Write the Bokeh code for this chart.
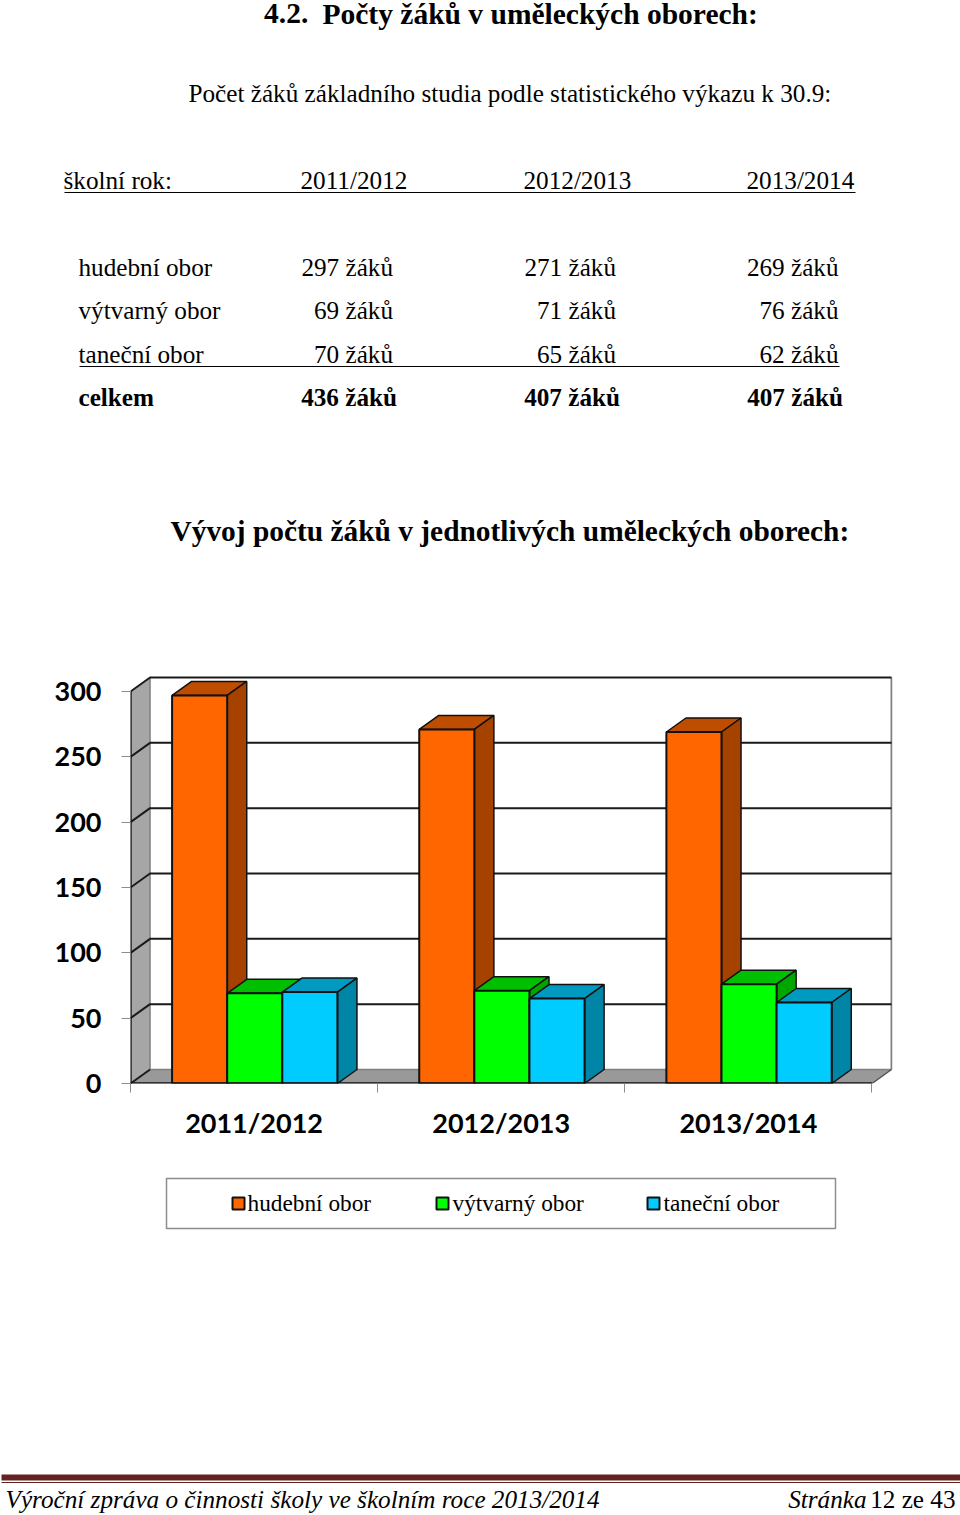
from bokeh.plotting import figure
from bokeh.layouts import column
from bokeh.models import Range1d, FixedTicker
from bokeh.core.properties import value
from bokeh.embed import file_html
from bokeh.resources import INLINE

years = ["2011/2012", "2012/2013", "2013/2014"]
hudebni = [297, 271, 269]
vytvarny = [69, 71, 76]
tanecni = [70, 65, 62]
celkem = [436, 407, 407]
series_names = ["hudební obor", "výtvarný obor", "taneční obor"]
y_ticks = [0, 50, 100, 150, 200, 250, 300]
front_colors = ["#FF6600", "#00FF00", "#00CCFF"]
top_colors = ["#BF4D00", "#00BF00", "#0099BF"]
side_colors = ["#A64200", "#00A600", "#0085A6"]
SERIF = "Liberation Serif"
SANS = "Lato"
series = [hudebni, vytvarny, tanecni]


def page_fig(top, bottom):
    f = figure(width=960, height=bottom - top, x_range=Range1d(0, 960), y_range=Range1d(bottom, top),
               x_axis_type=None, y_axis_type=None, output_backend="svg", toolbar_location=None,
               min_border=0, outline_line_color=None, frame_align=False)
    f.grid.visible = False
    return f


def put(f, x, y, s, size=25.2, align="left", style="normal", font=SERIF):
    f.text([x], [y], text=[s], text_font=value(font), text_font_size=f"{size}px", text_font_style=style,
           text_align=align, text_baseline="middle", text_color="black")


# ---- top text -------------------------------------------------------------
top = page_fig(0, 640)
put(top, 263.5, 13, "4.2.", 29.5, style="bold")
put(top, 322, 13, "Počty žáků v uměleckých oborech:", 29.5, style="bold")
put(top, 188, 93, "Počet žáků základního studia podle statistického výkazu k 30.9:")
put(top, 63, 180, "školní rok:")
for x, y_label in zip([300, 523, 746], years):
    put(top, x, 180, y_label)
top.line([64, 855], [192, 192], line_color="black", line_width=1.2)
rows = list(zip(series_names, series, [267, 310, 354]))
for name, vals, y in rows:
    put(top, 78, y, name)
    for x, v in zip([392.5, 615.5, 838], vals):
        put(top, x, y, f"{v} žáků", align="right")
top.line([79, 839], [366, 366], line_color="black", line_width=1.2)
put(top, 78, 397, "celkem", style="bold")
for x, v in zip([396.5, 619.5, 842.5], celkem):
    put(top, x, 397, f"{v} žáků", align="right", style="bold")
put(top, 170, 530.5, "Vývoj počtu žáků v jednotlivých uměleckých oborech:", 29.4, style="bold")

# ---- chart -----------------------------------------------------------------
PX_PER_CAT = 740 / 3
PX_PER_VAL = 392 / 300
dx = 19.5 / PX_PER_CAT
dy = 14 / PX_PER_VAL
n = len(years)
bar_w = 55 / PX_PER_CAT
offs = 41.5 / PX_PER_CAT

p = figure(width=960, height=525, x_range=Range1d(0, n + dx + 1 / PX_PER_CAT),
           y_range=Range1d(0, 300 + dy + 2 / PX_PER_VAL),
           output_backend="svg", toolbar_location=None, min_border_left=130, min_border_right=68,
           min_border_top=35, min_border_bottom=82, outline_line_color=None, frame_align=False)
p.grid.visible = False

xa = p.xaxis[0]
xa.ticker = FixedTicker(ticks=[i + 0.5 for i in range(n)], minor_ticks=list(range(n + 1)))
xa.major_label_overrides = {i + 0.5: y_label for i, y_label in enumerate(years)}
xa.major_tick_out = 0
xa.major_tick_in = 0
xa.minor_tick_out = 9
xa.minor_tick_in = 0
xa.minor_tick_line_color = "#8c8c8c"
xa.axis_line_color = None
xa.major_label_text_font = SANS
xa.major_label_text_font_style = "bold"
xa.major_label_text_font_size = "27px"
xa.major_label_text_color = "black"
xa.major_label_standoff = 13

ya = p.yaxis[0]
ya.ticker = FixedTicker(ticks=y_ticks)
ya.major_tick_out = 9
ya.major_tick_in = 0
ya.major_tick_line_color = "#8c8c8c"
ya.minor_tick_line_color = None
ya.axis_line_color = None
ya.major_label_text_font = SANS
ya.major_label_text_font_style = "bold"
ya.major_label_text_font_size = "27px"
ya.major_label_text_color = "black"
ya.major_label_standoff = 20

top_v = y_ticks[-1]
p.patch([0, dx, dx, 0], [0, dy, top_v + dy, top_v], fill_color="#A6A6A6", line_color=None)
p.patch([0, n, n + dx, dx], [0, 0, dy, dy], fill_color="#999999", line_color=None)
p.line([dx, dx], [dy, top_v + dy], line_color="#808080", line_width=1.5)
p.line([n + dx, n + dx], [dy, top_v + dy], line_color="#808080", line_width=2)
p.line([dx, n + dx], [dy, dy], line_color="#808080", line_width=1.5)
p.line([n, n + dx], [0, dy], line_color="#555555", line_width=1.5)
for t in y_ticks[1:]:
    p.line([0, dx, n + dx], [t, t + dy, t + dy], line_color="#1a1a1a", line_width=2)
p.line([0, dx], [0, dy], line_color="#1a1a1a", line_width=2)
p.line([0, 0], [0, top_v], line_color="#1a1a1a", line_width=2.5)

for g in range(n):
    for s, vals in enumerate(series):
        v = vals[g]
        x0 = g + offs + s * bar_w
        x1 = x0 + bar_w
        p.patch([x0, x1, x1 + dx, x0 + dx], [v, v, v + dy, v + dy], fill_color=top_colors[s],
                line_color="#111111", line_width=1.5)
        p.patch([x1, x1 + dx, x1 + dx, x1], [0, dy, v + dy, v], fill_color=side_colors[s],
                line_color="#111111", line_width=1.5)
        p.quad(left=[x0], right=[x1], bottom=[0], top=[v], fill_color=front_colors[s],
               line_color="#111111", line_width=2)
p.line([0, n], [0, 0], line_color="#111111", line_width=2.5)

# ---- legend ----------------------------------------------------------------
leg = page_fig(1165, 1240)
leg.quad(left=[166], right=[835], top=[1178], bottom=[1228], fill_color="white", line_color="#8c8c8c", line_width=1.5)
for i, (mx, tx) in enumerate(zip([238, 442, 653], [247, 452, 663])):
    leg.scatter([mx], [1203], marker="square", size=12, fill_color=front_colors[i], line_color="#111111", line_width=2)
    put(leg, tx, 1202, series_names[i], 23.3)

# ---- footer ----------------------------------------------------------------
foot = page_fig(1240, 1515)
foot.quad(left=[1], right=[960], top=[1474], bottom=[1480], fill_color="#622423", line_color=None)
foot.quad(left=[1], right=[960], top=[1481.5], bottom=[1482.5], fill_color="#622423", line_color=None)
put(foot, 5, 1499, "Výroční zpráva o činnosti školy ve školním roce 2013/2014", 25.2, style="italic")
put(foot, 866, 1499, "Stránka", 25.2, align="right", style="italic")
put(foot, 955, 1499, "12 ze 43", 25.2, align="right")

page = column(top, p, leg, foot, spacing=0, styles={"position": "absolute", "left": "0px", "top": "0px"})
open("out.html", "w").write(file_html(page, INLINE))
